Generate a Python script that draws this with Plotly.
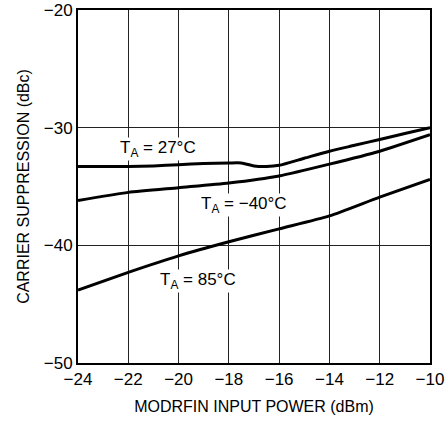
import plotly.graph_objects as go

x27 = [-24, -23, -22, -21, -20, -19, -18, -17.5, -17, -16.5, -16, -15, -14, -13, -12, -11, -10]
y27 = [-33.3, -33.3, -33.3, -33.25, -33.15, -33.05, -33.0, -33.0, -33.25, -33.3, -33.2, -32.6, -32.0, -31.5, -31.0, -30.5, -30.0]
xm40 = [-24, -22, -20, -18, -16, -14, -12, -10]
ym40 = [-36.2, -35.5, -35.1, -34.7, -34.1, -33.1, -32.0, -30.6]
x85 = [-24, -22, -20, -18, -16, -14, -12, -10]
y85 = [-43.8, -42.3, -40.9, -39.7, -38.6, -37.5, -35.9, -34.4]

labels = ["T<sub>A</sub> = 27°C", "T<sub>A</sub> = −40°C", "T<sub>A</sub> = 85°C"]
label_x = [-20.80, -17.40, -19.21]
label_y = [-31.80, -36.55, -43.05]

xticks = [-24, -22, -20, -18, -16, -14, -12, -10]
yticks = [-50, -40, -30, -20]

FONT = "Liberation Sans, Arial, sans-serif"

fig = go.Figure()
for xs, ys in [(x27, y27), (xm40, ym40), (x85, y85)]:
    fig.add_trace(go.Scatter(x=xs, y=ys, mode="lines",
                             line=dict(color="black", width=3, shape="spline", smoothing=0.6),
                             showlegend=False, hoverinfo="skip"))

for t, lx, ly in zip(labels, label_x, label_y):
    fig.add_annotation(x=lx, y=ly, text=t, showarrow=False,
                       font=dict(family=FONT, size=17, color="black"),
                       bgcolor="white", borderpad=0)

fig.update_layout(
    width=446, height=423,
    margin=dict(l=78, r=16, t=10, b=60, autoexpand=False),
    paper_bgcolor="white", plot_bgcolor="white",
    font=dict(family=FONT, size=17, color="black"),
)
fig.update_xaxes(range=[-24, -10], tickvals=xticks,
                 ticktext=[f"−{abs(v)}" for v in xticks],
                 showgrid=True, gridcolor="#222", gridwidth=1,
                 showline=True, linecolor="black", linewidth=2, mirror=True,
                 ticks="", zeroline=False, automargin=False,
                 title=dict(text="MODRFIN INPUT POWER (dBm)", standoff=12,
                            font=dict(size=16)))
fig.update_yaxes(range=[-50, -20], tickvals=yticks,
                 ticktext=[f"−{abs(v)}" for v in yticks],
                 showgrid=True, gridcolor="#222", gridwidth=1,
                 showline=True, linecolor="black", linewidth=2, mirror=True,
                 ticks="", zeroline=False, automargin=False,
                 title=dict(text="CARRIER SUPPRESSION (dBc)", standoff=10,
                            font=dict(size=16)))

fig.write_html("out.html")
